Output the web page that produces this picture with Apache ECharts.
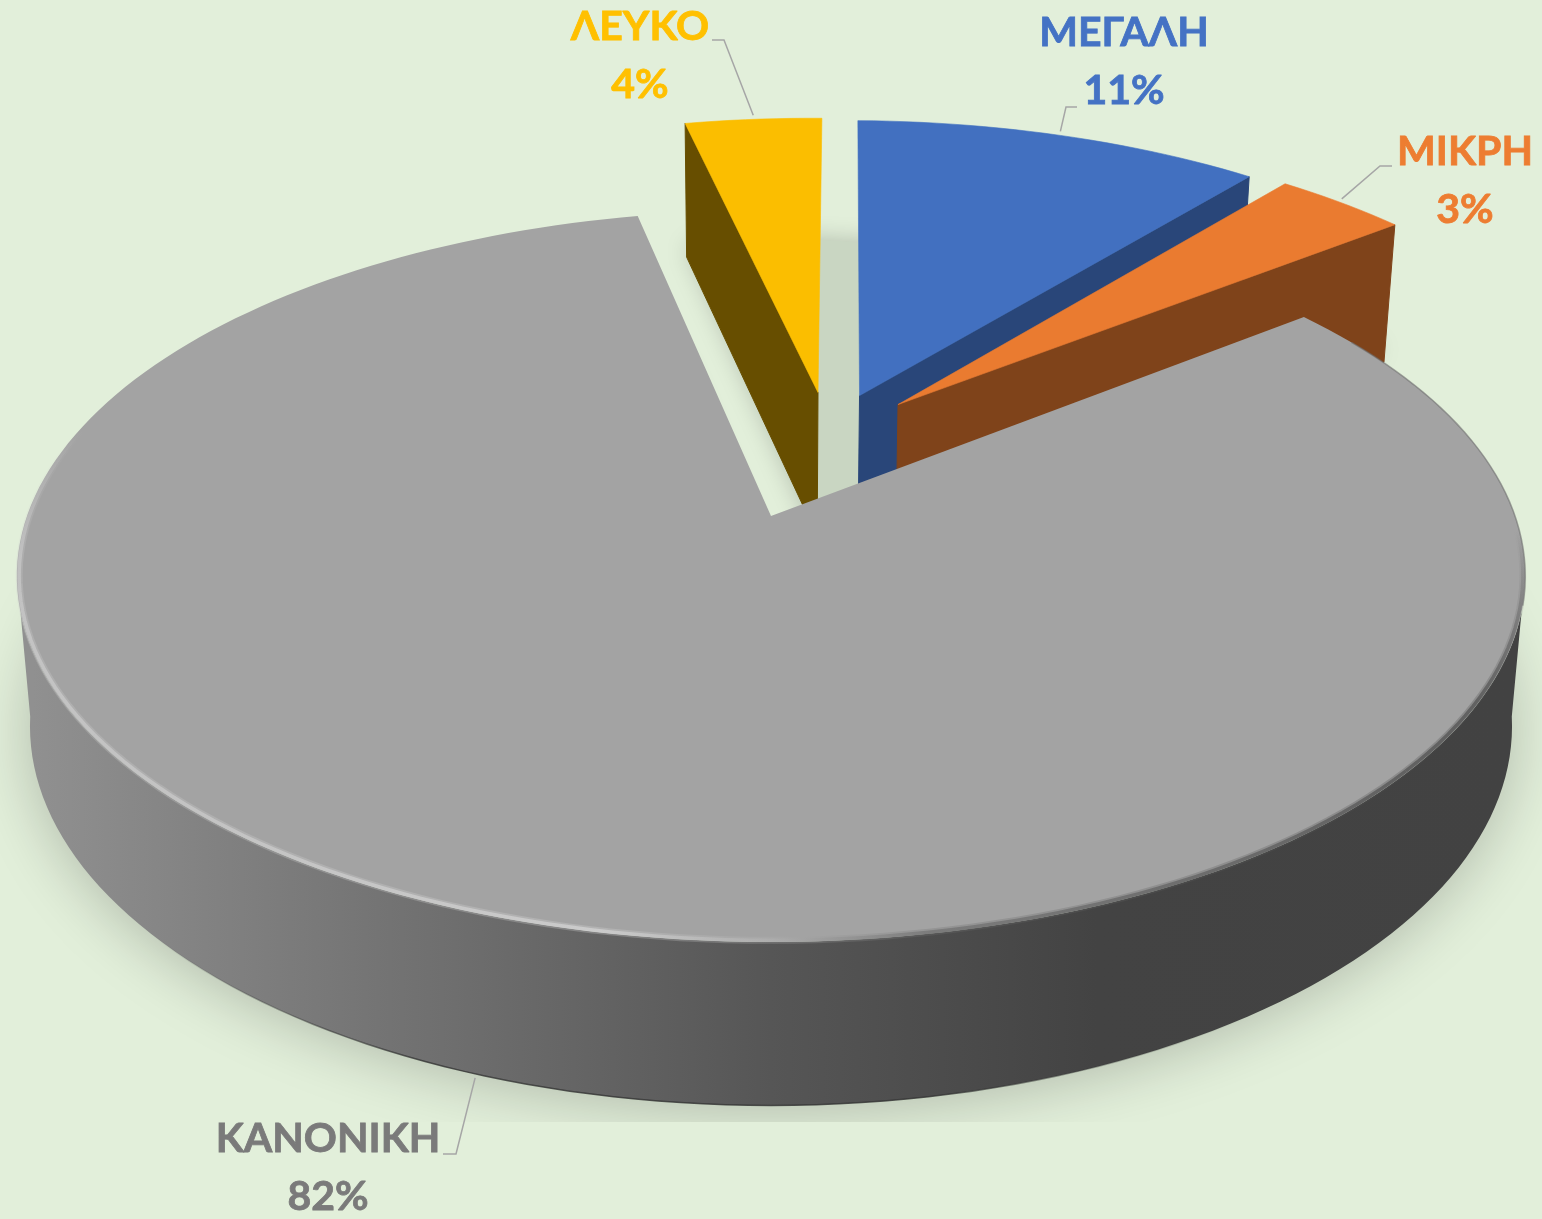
<!DOCTYPE html>
<html><head><meta charset="utf-8">
<style>html,body{margin:0;padding:0;background:#E2EFDA}#c{width:1542px;height:1219px}</style>
<script src="https://cdn.jsdelivr.net/npm/echarts@6/dist/echarts.min.js"></script>
</head><body><div id="c"></div>
<script>
// ---- data (clockwise, starting at the left cut of the yellow slice)
const categories = ['ΛΕΥΚΟ', 'ΜΕΓΑΛΗ', 'ΜΙΚΡΗ', 'ΚΑΝΟΝΙΚΗ'];
const values = [3.6, 10.7, 3.49, 82.21];

// ---- styles and layout
const topColors  = ['#FBBE00', '#4270C0', '#EA7B30', '#A3A3A3'];
const sideColors = ['#674E00', '#294679', '#7F431A', '#444444'];
const textColors = ['#FFC000', '#4472C4', '#ED7D31', '#7A7A7A'];
const cutSide    = ['start', 'end', 'end', null];
const explodeU   = [0.067, 0.126, 0.180, 0];
const explodeV   = [-0.368, -0.358, -0.330, 0];
const labelX     = [640, 1124, 1465, 328];
const labelY     = [27, 33, 152, 1139];
const elbowA     = [[712, 40], [1077, 107], [1392, 166], [443, 1154]];
const elbowB     = [[724, 40], [1066, 107], [1380, 166], [456, 1154]];
const leaderGap  = [-4, -4, -4, 4];
const startAngle = -12;
const topDisc    = {cx: 771, cy: 516, R: 744, S: 356, k: 0.164};
const baseDisc   = {cx: 771, cy: 664, R: 731, S: 369, k: 0.164};
const FONT = 'bold 41px Lato, "Noto Sans", sans-serif';

const total = values.reduce((a, b) => a + b, 0);
function sweep(i) {
  const before = values.slice(0, i).reduce((a, b) => a + b, 0);
  return [startAngle + before / total * 360, startAngle + (before + values[i]) / total * 360];
}
function project(d, u, v) {
  const w = 1 - d.k * v;
  return [d.cx + d.R * u / w, d.cy + d.S * v / w];
}
function rim(d, i, deg, scale) {
  const a = deg * Math.PI / 180, r = scale || 1;
  return project(d, r * Math.sin(a) + explodeU[i], -r * Math.cos(a) + explodeV[i]);
}
function apex(d, i) { return project(d, explodeU[i], explodeV[i]); }
function arc(d, i, a0, a1, scale) {
  const n = Math.max(2, Math.ceil(Math.abs(a1 - a0) / 1.5)), pts = [];
  for (let j = 0; j <= n; j++) pts.push(rim(d, i, a0 + (a1 - a0) * j / n, scale));
  return pts;
}
function poly(points, style) { return {type: 'polygon', shape: {points}, style, silent: true}; }
function line(points, style) { return {type: 'polyline', shape: {points}, style: Object.assign({fill: null}, style), silent: true}; }
const gradX = (x0, x1, stops) => new echarts.graphic.LinearGradient(x0, 0, x1, 0, stops, true);
const gradY = (y0, y1, stops) => new echarts.graphic.LinearGradient(0, y0, 0, y1, stops, true);

function shadowChildren() {
  const out = [];
  const col = '#C9D6C2';
  const m = categories.length - 1;
  const [ms, me] = sweep(m);
  const mainPts = arc(baseDisc, m, ms, me);
  mainPts.push(apex(baseDisc, m));
  out.push(poly(mainPts, {fill: col, shadowBlur: 60, shadowOffsetY: 6, shadowColor: 'rgba(0,0,0,0.22)'}));
  let small = [];
  for (let i = 0; i < m; i++) { const [s, e] = sweep(i); small = small.concat(arc(baseDisc, i, s, e)); }
  small = small.map(p => [p[0], p[1] - 12]);
  small.push(apex(baseDisc, 0));
  out.push(poly(small, {fill: col, shadowBlur: 24, shadowColor: 'rgba(0,0,0,0.22)'}));
  // the reference shadow is clipped along the chart's lower edge
  out.push({type: 'rect', shape: {x: 0, y: 1122, width: 1542, height: 97}, style: {fill: '#E2EFDA'}, silent: true});
  return out;
}

function rimLines(i) {
  const out = [];
  const add = (a0, a1, stroke) => {
    const pts = arc(topDisc, i, a0, a1, 0.997);
    out.push(line(pts, {stroke, lineWidth: 7, opacity: 0.28}));
    out.push(line(pts, {stroke, lineWidth: 3.5, opacity: 0.65}));
  };
  add(85, 130, gradY(530, 700, [
    {offset: 0, color: 'rgba(75,75,75,0)'}, {offset: 1, color: 'rgba(75,75,75,1)'}]));
  add(130, 180, gradX(771, 1408, [
    {offset: 0, color: 'rgba(176,176,176,1)'}, {offset: 0.25, color: 'rgba(110,110,110,1)'},
    {offset: 1, color: 'rgba(75,75,75,1)'}]));
  add(180, 236, gradX(200, 771, [
    {offset: 0, color: 'rgba(206,206,206,1)'}, {offset: 0.7, color: 'rgba(216,216,216,1)'},
    {offset: 1, color: 'rgba(176,176,176,1)'}]));
  add(236, 292, gradY(430, 640, [
    {offset: 0, color: 'rgba(206,206,206,0)'}, {offset: 0.6, color: 'rgba(206,206,206,0.9)'},
    {offset: 1, color: 'rgba(206,206,206,1)'}]));
  out.push(line(arc(topDisc, i, 58, 104), {stroke: '#6E6E6E', lineWidth: 1.5, opacity: 0.6}));
  return out;
}

function renderItem(params, api) {
  const i = params.dataIndex;
  const value = api.value(0);
  const [s, e] = sweep(i);
  const children = i === 0 ? shadowChildren() : [];
  const isMain = cutSide[i] === null;

  if (isMain) {
    const wallTop = arc(topDisc, i, 105, 255), wallBase = arc(baseDisc, i, 262, 98);
    children.push(poly(wallTop.concat(wallBase), {
      fill: gradX(33, 1510, [
        {offset: 0, color: '#909090'}, {offset: 0.25, color: '#727272'},
        {offset: 0.5, color: '#565656'}, {offset: 0.72, color: '#434343'}, {offset: 1, color: '#424242'}])
    }));
    children.push(line(arc(baseDisc, i, 125, 235), {
      lineWidth: 1.5,
      stroke: gradX(150, 1250, [
        {offset: 0, color: 'rgba(50,50,50,0)'}, {offset: 0.25, color: 'rgba(50,50,50,0.8)'},
        {offset: 0.7, color: 'rgba(50,50,50,0.8)'}, {offset: 1, color: 'rgba(50,50,50,0)'}])
    }));
  } else {
    const end = cutSide[i] === 'start' ? s : e;
    children.push(poly([apex(topDisc, i), rim(topDisc, i, end), rim(baseDisc, i, end), apex(baseDisc, i)],
      {fill: sideColors[i], stroke: sideColors[i], lineWidth: 1}));
  }

  const topPts = [apex(topDisc, i)].concat(arc(topDisc, i, s, e));
  children.push(poly(topPts, {fill: topColors[i], stroke: topColors[i], lineWidth: isMain ? 0 : 0.6}));
  if (isMain) children.push(...rimLines(i));

  // leader and label
  const mid = (s + e) / 2;
  const a = rim(isMain ? baseDisc : topDisc, i, mid);
  const anchor = [a[0], a[1] + leaderGap[i]];
  children.push(line([elbowA[i], elbowB[i], anchor], {stroke: '#A6A6A6', lineWidth: 1.5}));
  const pct = Math.round(value / total * 100) + '%';
  const textStyle = {font: FONT, fill: textColors[i], stroke: textColors[i], lineWidth: 0.8, align: 'center', verticalAlign: 'middle'};
  children.push({type: 'text', silent: true, style: Object.assign({text: categories[i], x: labelX[i], y: labelY[i]}, textStyle)});
  children.push({type: 'text', silent: true, style: Object.assign({text: pct, x: labelX[i], y: labelY[i] + 58}, textStyle)});
  return {type: 'group', children};
}

const chart = echarts.init(document.getElementById('c'), null, {renderer: 'canvas', width: 1542, height: 1219});
chart.setOption({
  animation: false,
  backgroundColor: '#E2EFDA',
  series: [{
    type: 'custom',
    coordinateSystem: 'none',
    silent: true,
    clip: false,
    renderItem,
    data: values.map((v, i) => ({name: categories[i], value: [v]}))
  }]
});
</script></body></html>
